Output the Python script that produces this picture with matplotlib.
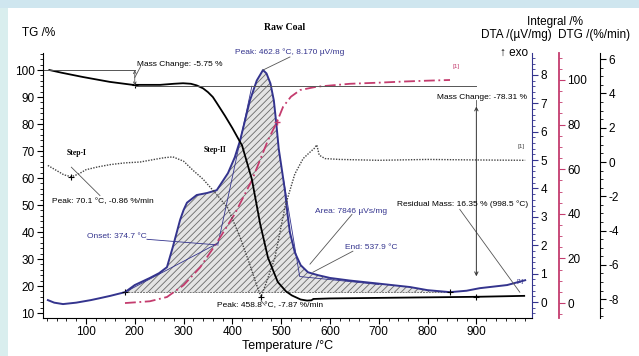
import numpy as np
import matplotlib
matplotlib.use("Agg")
import matplotlib.pyplot as plt
from matplotlib.patches import Rectangle
from matplotlib.ticker import MultipleLocator

plt.rcParams['font.family'] = ['Liberation Sans', 'DejaVu Sans']
plt.rcParams['hatch.linewidth'] = 0.6
plt.rcParams['axes.unicode_minus'] = False

# TG (mass, %)
tg_T = [25, 50, 94, 149, 196, 252, 280, 299, 315, 327, 340, 350, 360, 368, 385, 400,
        420, 440, 457, 473, 493, 510, 522, 540, 553, 562, 566, 600, 700, 800, 900, 998]
tg_val = [100, 99, 97.4, 95.6, 94.5, 94.5, 94.9, 95.1, 94.9, 94.3, 93.2, 91.8, 90.0,
          87.8, 83.0, 78.5, 72.0, 59.5, 43.0, 30.5, 21.5, 18.0, 16.5, 15.0, 14.6, 14.7,
          15.2, 15.4, 15.6, 15.8, 16.0, 16.35]

# DTA (uV/mg)
dta_T = [22, 35, 53, 80, 110, 129, 150, 180, 200, 231, 250, 266, 278, 293, 300, 307,
         327, 348, 368, 391, 405, 416, 436, 450, 462.8, 470, 478, 485, 490, 495, 502,
         508, 513, 518, 528, 540, 555, 575, 600, 640, 700, 764, 800, 846, 880, 907,
         963, 1000]
dta_val = [0.07, -0.02, -0.07, -0.02, 0.07, 0.14, 0.22, 0.35, 0.6, 0.85, 1.02, 1.23,
           1.94, 2.9, 3.24, 3.5, 3.77, 3.84, 3.94, 4.54, 5.1, 5.7, 7.1, 7.8, 8.17,
           8.05, 7.7, 7.1, 6.3, 5.4, 4.6, 3.9, 3.1, 2.45, 1.75, 1.3, 1.05, 0.95, 0.85,
           0.76, 0.65, 0.53, 0.42, 0.35, 0.4, 0.49, 0.6, 0.77]
dta_base = 0.35

# Integral (%)
int_T = [180, 200, 231, 266, 300, 334, 368, 405, 440, 473, 491, 504, 520, 539, 573,
         641, 700, 750, 800, 846]
int_val = [0, 0.3, 0.8, 2.7, 8, 16, 27, 40, 55, 73, 81, 88, 92.5, 95.5, 97, 98.3,
           98.8, 99.3, 99.7, 100]

# DTG (%/min)
dtg_T = [22, 40, 55, 70.1, 85, 100, 125, 150, 180, 211, 240, 260, 278, 300, 320, 340,
         371, 391, 416, 436, 450, 458.8, 470, 487, 508, 528, 545, 560, 568, 573, 578,
         590, 620, 700, 800, 900, 1000]
dtg_val = [-0.2, -0.5, -0.75, -0.86, -0.7, -0.45, -0.28, -0.15, -0.05, 0.0, 0.15, 0.25,
           0.3, 0.05, -0.5, -1.0, -2.0, -2.7, -4.4, -6.0, -7.2, -7.87, -7.0, -5.6, -2.6,
           -0.7, 0.2, 0.6, 0.8, 1.0, 0.4, 0.2, 0.15, 0.1, 0.15, 0.12, 0.1]

navy = '#34348e'
crimson = '#c43c6e'
grey = '#555555'

fig = plt.figure(figsize=(6.39, 3.56), dpi=100)
fig.patch.set_facecolor('white')
fig.patches.append(Rectangle((0, 0), 8 / 639, 1, transform=fig.transFigure,
                             facecolor='#d9eeee', edgecolor='none', zorder=-5))
fig.patches.append(Rectangle((0, 1 - 8 / 356), 1, 8 / 356, transform=fig.transFigure,
                             facecolor='#cfe6ef', edgecolor='none', zorder=-5))

rect = [43 / 639, 1 - 318 / 356, 489 / 639, 265 / 356]
ax = fig.add_axes(rect)
ax2 = ax.twinx()
ax3 = ax.twinx()
ax4 = ax.twinx()
ax.set_zorder(3)
ax.patch.set_visible(False)
ax2.set_zorder(0)
ax3.set_zorder(1)
ax4.set_zorder(2)

ax.set_xlim(12, 1014)
ax.set_ylim(8.15, 106.3)
ax2.set_ylim(-0.56, 8.77)
ax3.set_ylim(-6.7, 112.1)
ax4.set_ylim(-9.1, 6.36)

# spines
for s in ['top', 'right']:
    ax.spines[s].set_visible(False)
for a in (ax2, ax3, ax4):
    for s in ['top', 'left', 'bottom']:
        a.spines[s].set_visible(False)
ax2.spines['right'].set_color(navy)
ax3.spines['right'].set_position(('axes', 1 + 27 / 489))
ax3.spines['right'].set_color(crimson)
ax3.spines['right'].set_linewidth(1.3)
ax4.spines['right'].set_position(('axes', 1 + 68 / 489))

ax.xaxis.set_minor_locator(MultipleLocator(20))
ax.set_xticks([100, 200, 300, 400, 500, 600, 700, 800, 900])
ax.yaxis.set_major_locator(MultipleLocator(10))
ax.yaxis.set_minor_locator(MultipleLocator(2))
ax2.yaxis.set_major_locator(MultipleLocator(1))
ax2.yaxis.set_minor_locator(MultipleLocator(0.2))
ax3.yaxis.set_major_locator(MultipleLocator(20))
ax3.yaxis.set_minor_locator(MultipleLocator(5))
ax4.yaxis.set_major_locator(MultipleLocator(2))
ax4.yaxis.set_minor_locator(MultipleLocator(0.5))
for a in (ax, ax2, ax3, ax4):
    a.tick_params(which='major', length=4, width=0.8, labelsize=8.5, pad=2)
    a.tick_params(which='minor', length=2, width=0.6)
ax2.tick_params(which='both', colors=navy, labelcolor='black')
ax3.tick_params(which='both', colors=crimson, labelcolor='black')

# DTA hatched peak area
T = np.array(dta_T)
D = np.array(dta_val)
mask = (T >= 180) & (T <= 846)
ax2.fill_between(T[mask], D[mask], dta_base, facecolor='#e4e4e4', hatch='/////',
                 edgecolor='#6a6a6a', linewidth=0)
ax2.plot([180, 846], [dta_base, dta_base], color='#777777', lw=0.7, ls=(0, (2, 1)))
ax2.plot(dta_T, dta_val, color=navy, lw=1.4)
ax2.plot([180, 846], [dta_base, dta_base], ls='none', marker='+', ms=5, color='k', mew=0.8)
# onset / end construction lines
ax2.plot([180, 371], [0.35, 2.08], color=navy, lw=0.6)
ax2.plot([371, 440], [2.08, 7.6], color=navy, lw=0.6)
ax2.plot([505, 538, 700], [4.3, 0.9, 0.62], color=navy, lw=0.6)
ax2.plot([462.8, 518], [8.17, 8.63], color=grey, lw=0.6)

# integral
ax3.plot(int_T, int_val, color=crimson, lw=1.3, ls=(0, (6, 2, 1, 2)))
ax3.plot([491], [81], marker='+', ms=4, color=crimson)

# DTG
ax4.plot(dtg_T, dtg_val, color='#444444', lw=1.0, ls=(0, (1, 1)))
ax4.plot([70.1, 458.8], [-0.86, -7.87], ls='none', marker='+', ms=5, color='k', mew=0.8)

# TG
ax.plot(tg_T, tg_val, color='black', lw=1.3)
ax.plot([200, 900], [94.4, 16.0], ls='none', marker='+', ms=5, color='k', mew=0.8)
ax.plot([12, 200], [100, 100], color=grey, lw=0.7)
ax.plot([200, 900], [94.25, 94.25], color=grey, lw=0.7)
ax.annotate('', xy=(200, 100), xytext=(200, 94.25),
            arrowprops=dict(arrowstyle='<->', lw=0.6, color=grey, shrinkA=0, shrinkB=0,
                            mutation_scale=5))
ax.annotate('', xy=(900, 86.5), xytext=(900, 23.6),
            arrowprops=dict(arrowstyle='<->', lw=0.7, color='#333333', shrinkA=0,
                            shrinkB=0, mutation_scale=6))
ax.plot([900, 900], [89, 86.5], color=grey, lw=0.6)

# leader lines
ax.plot([200, 212], [97.2, 101.3], color=grey, lw=0.6)
ax.plot([70.1, 128.7], [64.0, 53.5], color=grey, lw=0.6)
ax.plot([225, 371], [37.3, 35.2], color=navy, lw=0.6)
ax.plot([645, 559], [46.5, 28.1], color=grey, lw=0.6)
ax.plot([647, 565], [32.9, 25.1], color=grey, lw=0.6)
ax.plot([866, 989], [48.4, 17.7], color=grey, lw=0.6)
ax.plot([458.8, 467], [14.5, 12.9], color=grey, lw=0.6)

small = 6
ax.text(204, 102.2, 'Mass Change: -5.75 %', fontsize=small, va='center')
ax.text(405, 106.6, 'Peak: 462.8 °C, 8.170 µV/mg', fontsize=small, va='center', color=navy)
ax.text(819, 89.7, 'Mass Change: -78.31 %', fontsize=small, va='center')
ax.text(81.6, 69.4, 'Step-I', fontsize=5.5, fontweight='bold', ha='center', va='center',
        family=['Liberation Serif', 'DejaVu Serif'])
ax.text(364, 70.5, 'Step-II', fontsize=5.5, fontweight='bold', ha='center', va='center',
        family=['Liberation Serif', 'DejaVu Serif'])
ax.text(30, 51.3, 'Peak: 70.1 °C, -0.86 %/min', fontsize=small, va='center')
ax.text(102, 38.4, 'Onset: 374.7 °C', fontsize=small, va='center', color=navy)
ax.text(569, 47.6, 'Area: 7846 µVs/mg', fontsize=small, va='center', color=navy)
ax.text(631, 34.3, 'End: 537.9 °C', fontsize=small, va='center', color=navy)
ax.text(737, 50.2, 'Residual Mass: 16.35 % (998.5 °C)', fontsize=small, va='center')
ax.text(368, 12.6, 'Peak: 458.8 °C, -7.87 %/min', fontsize=small, va='center')
ax.text(852, 101.2, '[1]', fontsize=4.5, color=crimson, va='center')
ax.text(985, 71.5, '[1]', fontsize=4.5, color='#444444', va='center')
ax.text(982, 21.8, '[1]', fontsize=4.5, color=navy, va='center')

ax.set_xlabel('Temperature /°C', fontsize=9, labelpad=1)

fig.text(22 / 639, 1 - 33 / 356, 'TG /%', fontsize=8.5, va='center')
fig.text(285 / 639, 1 - 28 / 356, 'Raw Coal', fontsize=7, fontweight='bold', ha='center',
         va='center', family=['Liberation Serif', 'DejaVu Serif'])
fig.text(555 / 639, 1 - 22 / 356, 'Integral /%', fontsize=8.5, ha='center', va='center')
fig.text(552 / 639, 1 - 35 / 356, 'DTA /(µV/mg)', fontsize=8.5, ha='right', va='center')
fig.text(558 / 639, 1 - 35 / 356, 'DTG /(%/min)', fontsize=8.5, ha='left', va='center')
fig.text(500 / 639, 1 - 53 / 356, '↑ exo', fontsize=8.5, ha='left', va='center')

fig.savefig('out.png', dpi=100, facecolor=fig.get_facecolor())
